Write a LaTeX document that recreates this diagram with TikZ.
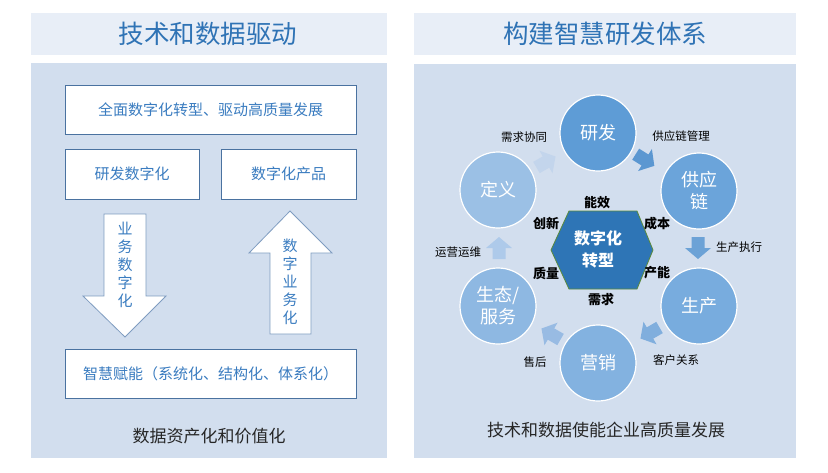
\documentclass[tikz,border=0pt]{standalone}
\usepackage{fontspec}
\setmainfont{Noto Sans CJK SC}
\definecolor{headc}{HTML}{E8EEF7}
\definecolor{bodyc}{HTML}{D2DEEE}
\definecolor{titc}{HTML}{2F73B5}
\definecolor{boxtxt}{HTML}{3A7CC0}
\definecolor{boxln}{HTML}{4A72A0}
\definecolor{arrln}{HTML}{7F9CC0}
\definecolor{hexc}{HTML}{2E75B6}
\definecolor{hexln}{HTML}{5A8A3C}
\definecolor{darktxt}{HTML}{262626}
\definecolor{c1}{HTML}{5E9CD6}
\definecolor{c2}{HTML}{6BA4DA}
\definecolor{c3}{HTML}{78ACDE}
\definecolor{c4}{HTML}{83B2E0}
\definecolor{c5}{HTML}{8EB8E2}
\definecolor{c6}{HTML}{9BC0E5}
\definecolor{a1c}{HTML}{C3D5EC}
\definecolor{a2c}{HTML}{5B97D1}
\definecolor{a3c}{HTML}{6CA2D6}
\definecolor{a4c}{HTML}{80AEDD}
\definecolor{a5c}{HTML}{98BBE3}
\definecolor{a6c}{HTML}{AECAEA}
\begin{document}
\begin{tikzpicture}[x=1pt,y=-1pt,
  title/.style={text=titc,font=\fontsize{25.5}{30}\selectfont,inner sep=0pt},
  wbox/.style={draw=boxln,fill=white,line width=0.8pt,text=boxtxt,font=\fontsize{15}{18}\selectfont,inner sep=0pt},
  bigarrow/.style={draw=arrln,fill=white,line width=0.8pt},
  vtext/.style={text=boxtxt,font=\fontsize{15}{18}\selectfont,align=center,inner sep=0pt},
  foot/.style={text=darktxt,font=\fontsize{17}{20}\selectfont,inner sep=0pt},
  ring/.style={circle,draw=white,line width=1.2pt,minimum size=76pt,inner sep=0pt,text=white,align=center,font=\fontsize{18}{22}\selectfont},
  kw/.style={text=black,font=\bfseries\fontsize{13}{15}\selectfont,inner sep=0pt},
  small/.style={text=black,font=\fontsize{11.5}{13}\selectfont,inner sep=0pt},
  blk/.pic={\fill (-11,-6.5) -- (0,-6.5) -- (0,-13) -- (11,0) -- (0,13) -- (0,6.5) -- (-11,6.5) -- cycle;}
]
\useasboundingbox (0,0) rectangle (828,472);
\fill[white] (0,0) rectangle (828,472);
% left panel
\fill[headc] (31,13) rectangle (387,55);
\fill[bodyc] (31,63) rectangle (387,458);
\node[title] (t1) at (208,34) {技术和数据驱动};
\node[wbox,minimum width=291pt,minimum height=49pt] (b1) at (210.5,109.5) {全面数字化转型、驱动高质量发展};
\node[wbox,minimum width=134pt,minimum height=50pt] (b2) at (132,174) {研发数字化};
\node[wbox,minimum width=135pt,minimum height=50pt] (b3) at (288.5,174) {数字化产品};
\node[wbox,minimum width=291pt,minimum height=49pt] (b4) at (210.5,373.5) {智慧赋能（系统化、结构化、体系化）};
\draw[bigarrow] (104,214) -- (146,214) -- (146,296) -- (166,296) -- (125,337) -- (83,296) -- (104,296) -- cycle;
\draw[bigarrow] (290,211) -- (332,253) -- (311,253) -- (311,334) -- (270,334) -- (270,253) -- (249,253) -- cycle;
\node[vtext] (v1) at (125,265) {业\\务\\数\\字\\化};
\node[vtext] (v2) at (290,282) {数\\字\\业\\务\\化};
\node[foot] (f1) at (209,436) {数据资产化和价值化};
% right panel
\fill[headc] (414,13) rectangle (796,55);
\fill[bodyc] (414,64) rectangle (796,458);
\node[title] (t2) at (605,34) {构建智慧研发体系};
\node[ring,fill=c1] (rd) at (598,133) {研发};
\node[ring,fill=c2] (gy) at (699,191) {供应\\链};
\node[ring,fill=c3] (sc) at (699,306) {生产};
\node[ring,fill=c4] (yx) at (598,363) {营销};
\node[ring,fill=c5] (st) at (498,306) {生态/\\服务};
\node[ring,fill=c6] (dy) at (498,190) {定义};
\filldraw[fill=hexc,draw=hexln,line width=0.8pt] (551,250) -- (569,211) -- (637,211) -- (653,250) -- (637,289) -- (569,289) -- cycle;
\node[text=white,font=\bfseries\fontsize{16}{22}\selectfont,align=center,inner sep=0pt] (hx) at (598,249) {数字化\\转型};
\node[kw] (k1) at (597,203) {能效};
\node[kw] (k2) at (546,224) {创新};
\node[kw] (k3) at (657,224) {成本};
\node[kw] (k4) at (546,273) {质量};
\node[kw] (k5) at (657,273) {产能};
\node[kw] (k6) at (601,300) {需求};
\node[small] (s1) at (524,137) {需求协同};
\node[small] (s2) at (681,136) {供应链管理};
\node[small] (s3) at (739,247) {生产执行};
\node[small] (s4) at (458,252) {运营运维};
\node[small] (s5) at (676,360) {客户关系};
\node[small] (s6) at (535,362) {售后};
\pic[fill=a1c,rotate=30] at (546,162) {blk};
\pic[fill=a2c,rotate=-32] at (645,160) {blk};
\pic[fill=a3c,rotate=-90] at (698,248) {blk};
\pic[fill=a4c,rotate=210] at (650,333) {blk};
\pic[fill=a5c,rotate=150] at (551,334) {blk};
\pic[fill=a6c,rotate=90] at (499,248) {blk};
\node[foot] (f2) at (606,430) {技术和数据使能企业高质量发展};
\end{tikzpicture}
\end{document}
